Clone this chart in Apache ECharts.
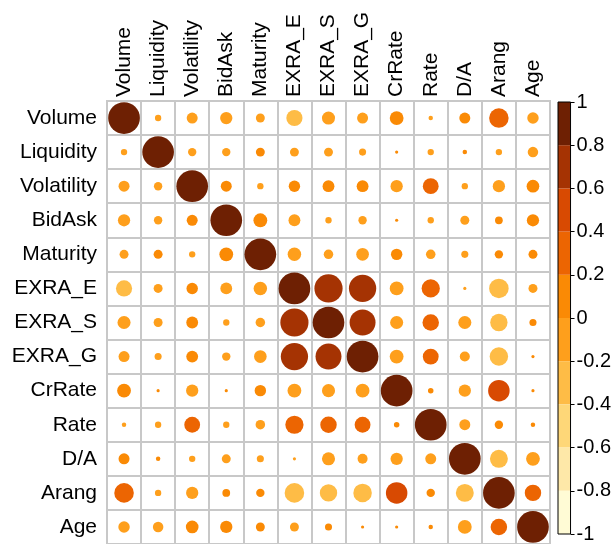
<!DOCTYPE html>
<html>
<head>
<meta charset="utf-8">
<script src="https://cdn.jsdelivr.net/npm/echarts@6/dist/echarts.min.js"></script>
<style>
  html, body { margin: 0; padding: 0; background: #fff; }
  #corr { width: 614px; height: 544px; }
</style>
</head>
<body>
<div id="corr"></div>
<script>
var vars = ['Volume', 'Liquidity', 'Volatility', 'BidAsk', 'Maturity', 'EXRA_E', 'EXRA_S',
  'EXRA_G', 'CrRate', 'Rate', 'D/A', 'Arang', 'Age']

// correlation rows, same order as vars
var rVolume = [1, -0.04, -0.12, -0.15, -0.08, -0.26, -0.17, -0.12, 0.19, -0.02, 0.12, 0.38, -0.13]
var rLiquidity = [-0.04, 1, -0.07, -0.07, 0.08, -0.08, -0.08, -0.05, 0.01, -0.04, 0.02, -0.04, -0.11]
var rVolatility = [-0.12, -0.07, 1, 0.12, -0.04, 0.13, 0.14, 0.14, -0.15, 0.25, -0.04, -0.15, 0.16]
var rBidAsk = [-0.15, -0.07, 0.12, 1, 0.19, -0.14, -0.04, -0.07, 0.01, -0.04, -0.08, 0.06, 0.15]
var rMaturity = [-0.08, 0.08, -0.04, 0.19, 1, -0.18, -0.09, -0.16, 0.13, -0.09, -0.05, 0.07, 0.08]
var rExraE = [-0.26, -0.08, 0.13, -0.14, -0.18, 1, 0.79, 0.74, -0.19, 0.33, -0.01, -0.38, -0.08]
var rExraS = [-0.17, -0.08, 0.14, -0.04, -0.09, 0.79, 1, 0.67, -0.17, 0.27, -0.17, -0.30, 0.05]
var rExraG = [-0.12, -0.05, 0.14, -0.07, -0.16, 0.74, 0.67, 1, -0.19, 0.25, -0.10, -0.34, 0.01]
var rCrRate = [0.19, 0.01, -0.15, 0.01, 0.13, -0.19, -0.17, -0.19, 1, 0.03, -0.15, 0.46, 0.01]
var rRate = [-0.02, -0.04, 0.25, -0.04, -0.09, 0.33, 0.27, 0.25, 0.03, 1, -0.12, 0.07, 0.02]
var rDA = [0.12, 0.02, -0.04, -0.08, -0.05, -0.01, -0.17, -0.10, -0.15, -0.12, 1, -0.32, -0.19]
var rArang = [0.38, -0.04, -0.15, 0.06, 0.07, -0.38, -0.30, -0.34, 0.46, 0.07, -0.32, 1, 0.27]
var rAge = [-0.13, -0.11, 0.16, 0.15, 0.08, -0.08, 0.05, 0.01, 0.01, 0.02, -0.19, 0.27, 1]

var matrix = [rVolume, rLiquidity, rVolatility, rBidAsk, rMaturity, rExraE, rExraS,
  rExraG, rCrRate, rRate, rDA, rArang, rAge]

// colour legend bins, from -1 up to 1
var binEdges = [-1, -0.8, -0.6, -0.4, -0.2, 0, 0.2, 0.4, 0.6, 0.8, 1]
var binColors = ['#FFFBD5', '#FEE8A8', '#FED778', '#FEBC46', '#FE9F1C',
  '#FA8A05', '#EC6502', '#D84A02', '#A53303', '#6E2003']

var points = []
matrix.forEach(function (row, i) {
  row.forEach(function (v, j) {
    points.push([j, i, v])
  })
})

var pieces = binColors.map(function (c, k) {
  return k === 0
    ? { gte: binEdges[k], lte: binEdges[k + 1], color: c }
    : { gt: binEdges[k], lte: binEdges[k + 1], color: c }
})

// legend: one stacked bar per bin; negatives stack down from 0, positives up
var order = [4, 3, 2, 1, 0, 5, 6, 7, 8, 9]
var legendSeries = order.map(function (k) {
  var lo = binEdges[k]
  var hi = binEdges[k + 1]
  return {
    type: 'bar',
    xAxisIndex: 1,
    yAxisIndex: 1,
    stack: 'bar',
    barWidth: '100%',
    barGap: '-100%',
    silent: true,
    itemStyle: { color: binColors[k] },
    data: [hi <= 0 ? lo - hi : hi - lo]
  }
})

var chart = echarts.init(document.getElementById('corr'))
var font = 'Liberation Sans, Arial, sans-serif'
var gridLine = { color: '#C8C8C8', width: 2 }

chart.setOption({
  animation: false,
  grid: [
    { left: 107, top: 101, width: 443, height: 443, show: true, borderColor: '#C8C8C8', borderWidth: 2 },
    { left: 558, top: 102, width: 17, height: 443, show: true, borderColor: '#000', borderWidth: 1, z: 10 }
  ],
  xAxis: [
    {
      type: 'category',
      data: vars,
      position: 'top',
      gridIndex: 0,
      axisLine: { show: false },
      axisTick: { show: false },
      splitLine: { show: true, interval: 0, lineStyle: gridLine },
      axisLabel: { rotate: -90, interval: 0, margin: 4, fontSize: 21, color: '#000', fontFamily: font }
    },
    { type: 'category', data: [''], gridIndex: 1, show: false }
  ],
  yAxis: [
    {
      type: 'category',
      data: vars,
      inverse: true,
      gridIndex: 0,
      axisLine: { show: false },
      axisTick: { show: false },
      splitLine: { show: true, interval: 0, lineStyle: gridLine },
      axisLabel: { interval: 0, margin: 10, fontSize: 21, color: '#000', fontFamily: font }
    },
    {
      type: 'value',
      gridIndex: 1,
      position: 'right',
      min: -1,
      max: 1,
      interval: 0.2,
      splitLine: { show: false },
      axisLine: { show: false },
      axisTick: { show: true, length: 4, lineStyle: { color: '#000' } },
      axisLabel: { margin: 6, fontSize: 20, color: '#000', fontFamily: font }
    }
  ],
  visualMap: {
    type: 'piecewise',
    show: false,
    dimension: 2,
    seriesIndex: 0,
    pieces: pieces
  },
  series: [
    {
      type: 'scatter',
      xAxisIndex: 0,
      yAxisIndex: 0,
      data: points,
      itemStyle: { opacity: 1 },
      symbolSize: function (val) {
        return 31.7 * Math.sqrt(Math.abs(val[2]))
      },
      silent: true
    }
  ].concat(legendSeries)
})
</script>
</body>
</html>
